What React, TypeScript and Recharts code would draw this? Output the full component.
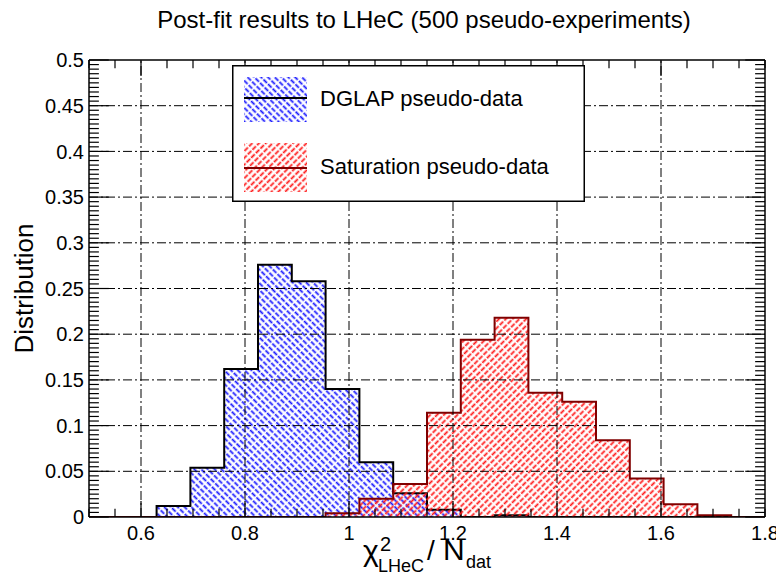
import React from 'react';
import { ComposedChart, Area, XAxis, YAxis, ReferenceLine, Legend } from 'recharts';

// histogram binning: 20 bins from 0.5 to 1.8
const binEdges = [0.5, 0.565, 0.63, 0.695, 0.76, 0.825, 0.89, 0.955, 1.02, 1.085, 1.15, 1.215, 1.28, 1.345, 1.41, 1.475, 1.54, 1.605, 1.67, 1.735, 1.8];
const dglapValues = [0, 0, 0.012, 0.054, 0.162, 0.276, 0.258, 0.14, 0.06, 0.026, 0.008, 0, 0.002, 0, 0, 0, 0, 0, 0, 0];
const saturationValues = [0, 0, 0, 0, 0, 0, 0, 0.004, 0.02, 0.036, 0.114, 0.194, 0.218, 0.136, 0.126, 0.084, 0.042, 0.014, 0.002, 0];

const xLabelTicks = [0.6, 0.8, 1, 1.2, 1.4, 1.6, 1.8];
const xGridTicks = [0.6, 0.8, 1, 1.2, 1.4, 1.6];
const yLabelTicks = [0, 0.05, 0.1, 0.15, 0.2, 0.25, 0.3, 0.35, 0.4, 0.45, 0.5];
const yGridTicks = [0.05, 0.1, 0.15, 0.2, 0.25, 0.3, 0.35, 0.4, 0.45];

const xMinorTicks = Array.from({ length: 27 }, (_, i) => +(0.5 + i * 0.05).toFixed(2));
const yMinorTicks = Array.from({ length: 101 }, (_, i) => +(i * 0.005).toFixed(3));

const seriesNames = ['DGLAP pseudo-data', 'Saturation pseudo-data'];

// step histogram rows: one per bin edge, last edge repeats the last bin
const data = binEdges.map((x, i) => ({
  x,
  dglap: dglapValues[Math.min(i, dglapValues.length - 1)],
  saturation: saturationValues[Math.min(i, saturationValues.length - 1)],
}));

const FONT = '"Liberation Sans", Arial, Helvetica, sans-serif';
const has = (list: number[], v: number) => list.some((m) => Math.abs(m - v) < 1e-9);

const X_MIN = 0.5, X_MAX = 1.8, Y_MIN = 0, Y_MAX = 0.5;
// inward tick lengths in axis units (~8/16 px vertical, ~10/20 px horizontal)
const TICK_Y_MINOR = 0.009, TICK_Y_MAJOR = 0.0175;
const TICK_X_MINOR = 0.019, TICK_X_MAJOR = 0.038;

const Patterns = () => (
  <svg width={0} height={0} style={{ position: 'absolute' }}>
    <defs>
      <pattern id="hatchBlue" patternUnits="userSpaceOnUse" width={6.5} height={4.8} patternTransform="rotate(45)">
        <line x1={0} y1={2.4} x2={6.5} y2={2.4} stroke="#1a1aff" strokeWidth={1.8} strokeDasharray="5 1.5" />
      </pattern>
      <pattern id="hatchRed" patternUnits="userSpaceOnUse" width={6.5} height={4.8} patternTransform="rotate(-45)">
        <line x1={0} y1={2.4} x2={6.5} y2={2.4} stroke="#ff1a1a" strokeWidth={1.8} strokeDasharray="5 1.5" />
      </pattern>
    </defs>
  </svg>
);

const LeftTick = (p: any) => {
  const v = p.payload.value;
  if (!has(yLabelTicks, v)) return <g />;
  return (
    <text x={p.x} y={p.y} dy="0.355em" textAnchor="end" fontFamily={FONT} fontSize={20} fill="#000">{String(v)}</text>
  );
};

const BottomTick = (p: any) => {
  const v = p.payload.value;
  if (!has(xLabelTicks, v)) return <g />;
  return (
    <text x={p.x} y={p.y} dy="0.71em" textAnchor="middle" fontFamily={FONT} fontSize={20} fill="#000">{String(v)}</text>
  );
};

const YTitle = (props: any) => {
  const vb = props.viewBox || { x: 39, y: 60, width: 50, height: 457 };
  const bx = vb.x + vb.width - 56;
  const by = vb.y + vb.height / 2;
  return (
    <text x={bx} y={by} transform={`rotate(-90 ${bx} ${by})`} textAnchor="middle"
      fontFamily={FONT} fontSize={26} fill="#000">
      Distribution
    </text>
  );
};

const XTitle = (props: any) => {
  const vb = props.viewBox || { x: 89, y: 517, width: 676, height: 30 };
  const cx = vb.x + vb.width / 2;
  return (
    <g fontFamily={FONT} fill="#000">
      <text x={cx - 64} y={561} fontSize={30}>χ</text>
      <text x={cx - 47} y={551} fontSize={20}>2</text>
      <text x={cx - 49} y={572} fontSize={18}>LHeC</text>
      <text x={cx} y={560} fontSize={28}>/</text>
      <text x={cx + 16} y={560} fontSize={30}>N</text>
      <text x={cx + 39} y={568} fontSize={18}>dat</text>
    </g>
  );
};

const LegendBox = () => (
  <svg width={353} height={137}>
    <rect x={0.75} y={0.75} width={351.5} height={135.5} fill="#fff" stroke="#000" strokeWidth={1.5} />
    <rect x={12} y={12} width={63} height={45} fill="url(#hatchBlue)" />
    <line x1={12} y1={33} x2={75} y2={33} stroke="#000" strokeWidth={2} />
    <text x={88} y={41} fontFamily={FONT} fontSize={22} fill="#000">{seriesNames[0]}</text>
    <rect x={12} y={78} width={63} height={49} fill="url(#hatchRed)" />
    <line x1={12} y1={103} x2={75} y2={103} stroke="#800000" strokeWidth={2} />
    <text x={88} y={109} fontFamily={FONT} fontSize={22} fill="#000">{seriesNames[1]}</text>
  </svg>
);

export default function App() {
  const domainX: [number, number] = [X_MIN, X_MAX];
  const domainY: [number, number] = [Y_MIN, Y_MAX];
  const frame = { stroke: '#000', strokeWidth: 1.5 };
  const grid = { stroke: '#000', strokeWidth: 1, strokeDasharray: '9 3 2 3' };
  const tk = { stroke: '#000', strokeWidth: 1.2, ifOverflow: 'visible' as const };
  return (
    <div style={{ position: 'absolute', left: 0, top: 0, width: 776, height: 577, background: '#fff' }}>
      <Patterns />
      <svg width={776} height={40} style={{ position: 'absolute', left: 0, top: 0 }}>
        <text x={424} y={28} textAnchor="middle" fontFamily={FONT} fontSize={24} fill="#000">
          Post-fit results to LHeC (500 pseudo-experiments)
        </text>
      </svg>
      <div style={{ position: 'absolute', left: 0, top: 0 }}>
        <ComposedChart width={776} height={577} data={data} margin={{ top: 50, right: 1, bottom: 30, left: 39 }}>
          <XAxis xAxisId="main" type="number" dataKey="x" domain={domainX} allowDataOverflow ticks={xLabelTicks} interval={0}
            height={30} tickSize={0} tickMargin={9} tickLine={false} axisLine={frame}
            tick={BottomTick} label={{ content: XTitle }} />
          <XAxis xAxisId="top" orientation="top" type="number" dataKey="x" domain={domainX} allowDataOverflow ticks={[]}
            height={10} tickLine={false} axisLine={frame} tick={false} />

          <YAxis yAxisId="main" type="number" domain={domainY} allowDataOverflow ticks={yLabelTicks} interval={0}
            width={50} tickSize={0} tickMargin={5} tickLine={false} axisLine={frame}
            tick={LeftTick} label={{ content: YTitle }} />
          <YAxis yAxisId="right" orientation="right" type="number" domain={domainY} allowDataOverflow ticks={[]}
            width={10} tickLine={false} axisLine={frame} tick={false} />

          {xGridTicks.map((v) => (
            <ReferenceLine key={`gx${v}`} x={v} xAxisId="main" yAxisId="main" {...grid} />
          ))}
          {yGridTicks.map((v) => (
            <ReferenceLine key={`gy${v}`} y={v} xAxisId="main" yAxisId="main" {...grid} />
          ))}

          {/* ROOT-style inward tick marks on all four sides */}
          {xMinorTicks.map((v) => {
            const len = has(xGridTicks, v) ? TICK_Y_MAJOR : TICK_Y_MINOR;
            return [
              <ReferenceLine key={`tb${v}`} xAxisId="main" yAxisId="main" {...tk}
                segment={[{ x: v, y: Y_MIN }, { x: v, y: Y_MIN + len }]} />,
              <ReferenceLine key={`tt${v}`} xAxisId="main" yAxisId="main" {...tk}
                segment={[{ x: v, y: Y_MAX }, { x: v, y: Y_MAX - len }]} />,
            ];
          })}
          {yMinorTicks.map((v) => {
            const len = has(yLabelTicks, v) ? TICK_X_MAJOR : TICK_X_MINOR;
            return [
              <ReferenceLine key={`tl${v}`} xAxisId="main" yAxisId="main" {...tk}
                segment={[{ x: X_MIN, y: v }, { x: X_MIN + len, y: v }]} />,
              <ReferenceLine key={`tr${v}`} xAxisId="main" yAxisId="main" {...tk}
                segment={[{ x: X_MAX, y: v }, { x: X_MAX - len, y: v }]} />,
            ];
          })}

          <Area xAxisId="main" yAxisId="main" type="stepAfter" dataKey="dglap" name={seriesNames[0]}
            stroke="#000" strokeWidth={2} fill="url(#hatchBlue)" fillOpacity={1}
            dot={false} activeDot={false} isAnimationActive={false} />
          <Area xAxisId="top" yAxisId="right" type="stepAfter" dataKey="saturation" name={seriesNames[1]}
            stroke="#800000" strokeWidth={2} fill="url(#hatchRed)" fillOpacity={1}
            dot={false} activeDot={false} isAnimationActive={false} />

          <Legend layout="vertical" align="center" verticalAlign="middle"
            wrapperStyle={{ left: 232, top: 65, width: 353, height: 137 }}
            content={LegendBox} />
        </ComposedChart>
      </div>
    </div>
  );
}
